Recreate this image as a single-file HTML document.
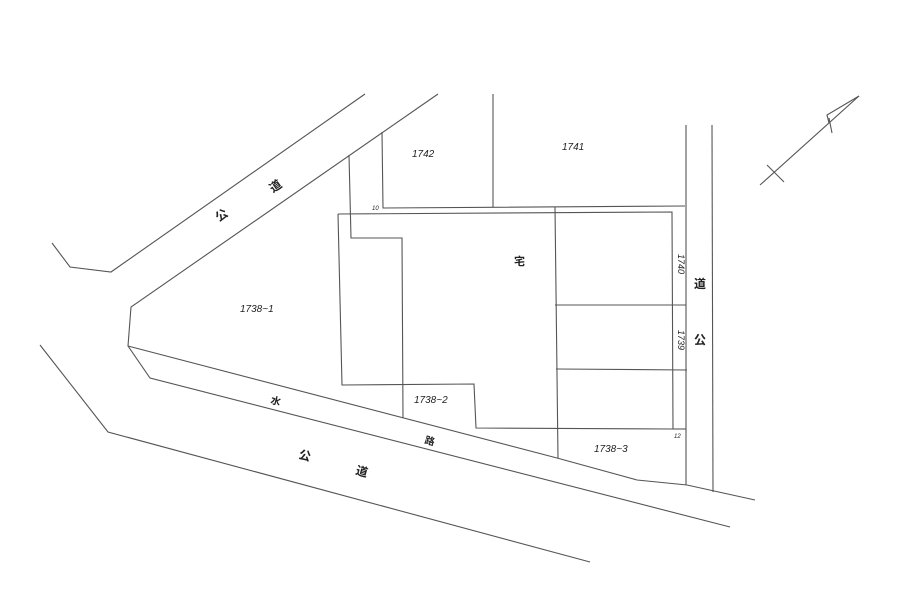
<!DOCTYPE html>
<html><head><meta charset="utf-8"><style>
html,body{margin:0;padding:0;background:#fff;width:900px;height:601px;overflow:hidden}
svg{display:block}
text{font-family:"Liberation Sans","Noto Sans CJK JP",sans-serif;fill:#222;font-style:italic}
.k{font-style:normal;font-weight:bold}
</style></head><body>
<svg width="900" height="601" viewBox="0 0 900 601" xmlns="http://www.w3.org/2000/svg">
<g fill="none" stroke="#555" stroke-width="1.1">
<polyline points="365,94 111,272 70,267 52,243"/>
<polyline points="438,94 131,307 128,346 150,378 730,527"/>
<polyline points="128,346 557,458 637,480 687,485 755,500"/>
<polyline points="40,345 108,432 590,562"/>
<polyline points="349,155 351,238 402,238 403,418"/>
<polyline points="382,132 383,208 685,206"/>
<line x1="493" y1="94" x2="493" y2="207"/>
<polyline points="338,214 672,212 673,429 476,428 474,384 342,385 338,214"/>
<line x1="555" y1="207" x2="558" y2="458"/>
<line x1="555" y1="305" x2="686" y2="305"/>
<line x1="556" y1="369" x2="687" y2="370"/>
<line x1="673" y1="429" x2="686" y2="429"/>
<line x1="686" y1="125" x2="686" y2="485"/>
<line x1="712" y1="125" x2="713" y2="492"/>
<line x1="760" y1="185" x2="859" y2="96"/>
<polyline points="859,96 827,115 829,123"/>
<line x1="767" y1="165" x2="784" y2="182"/>
<line x1="829" y1="118" x2="832" y2="133"/>
</g>
<text x="412" y="157" font-size="10">1742</text>
<text x="562" y="150" font-size="10">1741</text>
<text x="240" y="312" font-size="10">1738~1</text>
<text x="414" y="403" font-size="10">1738~2</text>
<text x="594" y="452" font-size="10">1738~3</text>
<text x="372" y="210" font-size="6">10</text>
<text x="674" y="438" font-size="6">12</text>
<text transform="translate(678,254) rotate(90)" font-size="9">1740</text>
<text transform="translate(678,330) rotate(90)" font-size="9">1739</text>
<text class="k" x="514" y="265" font-size="11">宅</text>
<text class="k" transform="translate(219,222) rotate(-35)" font-size="12">公</text>
<text class="k" transform="translate(273,193) rotate(-35)" font-size="12">道</text>
<text class="k" x="694" y="288" font-size="12">道</text>
<text class="k" x="694" y="344" font-size="12">公</text>
<text class="k" transform="translate(298,458) rotate(15)" font-size="12">公</text>
<text class="k" transform="translate(355,474) rotate(15)" font-size="12">道</text>
<text transform="translate(270,403) rotate(15)" font-size="10" class="k">水</text>
<text transform="translate(424,443) rotate(15)" font-size="10" class="k">路</text>
</svg>
</body></html>
